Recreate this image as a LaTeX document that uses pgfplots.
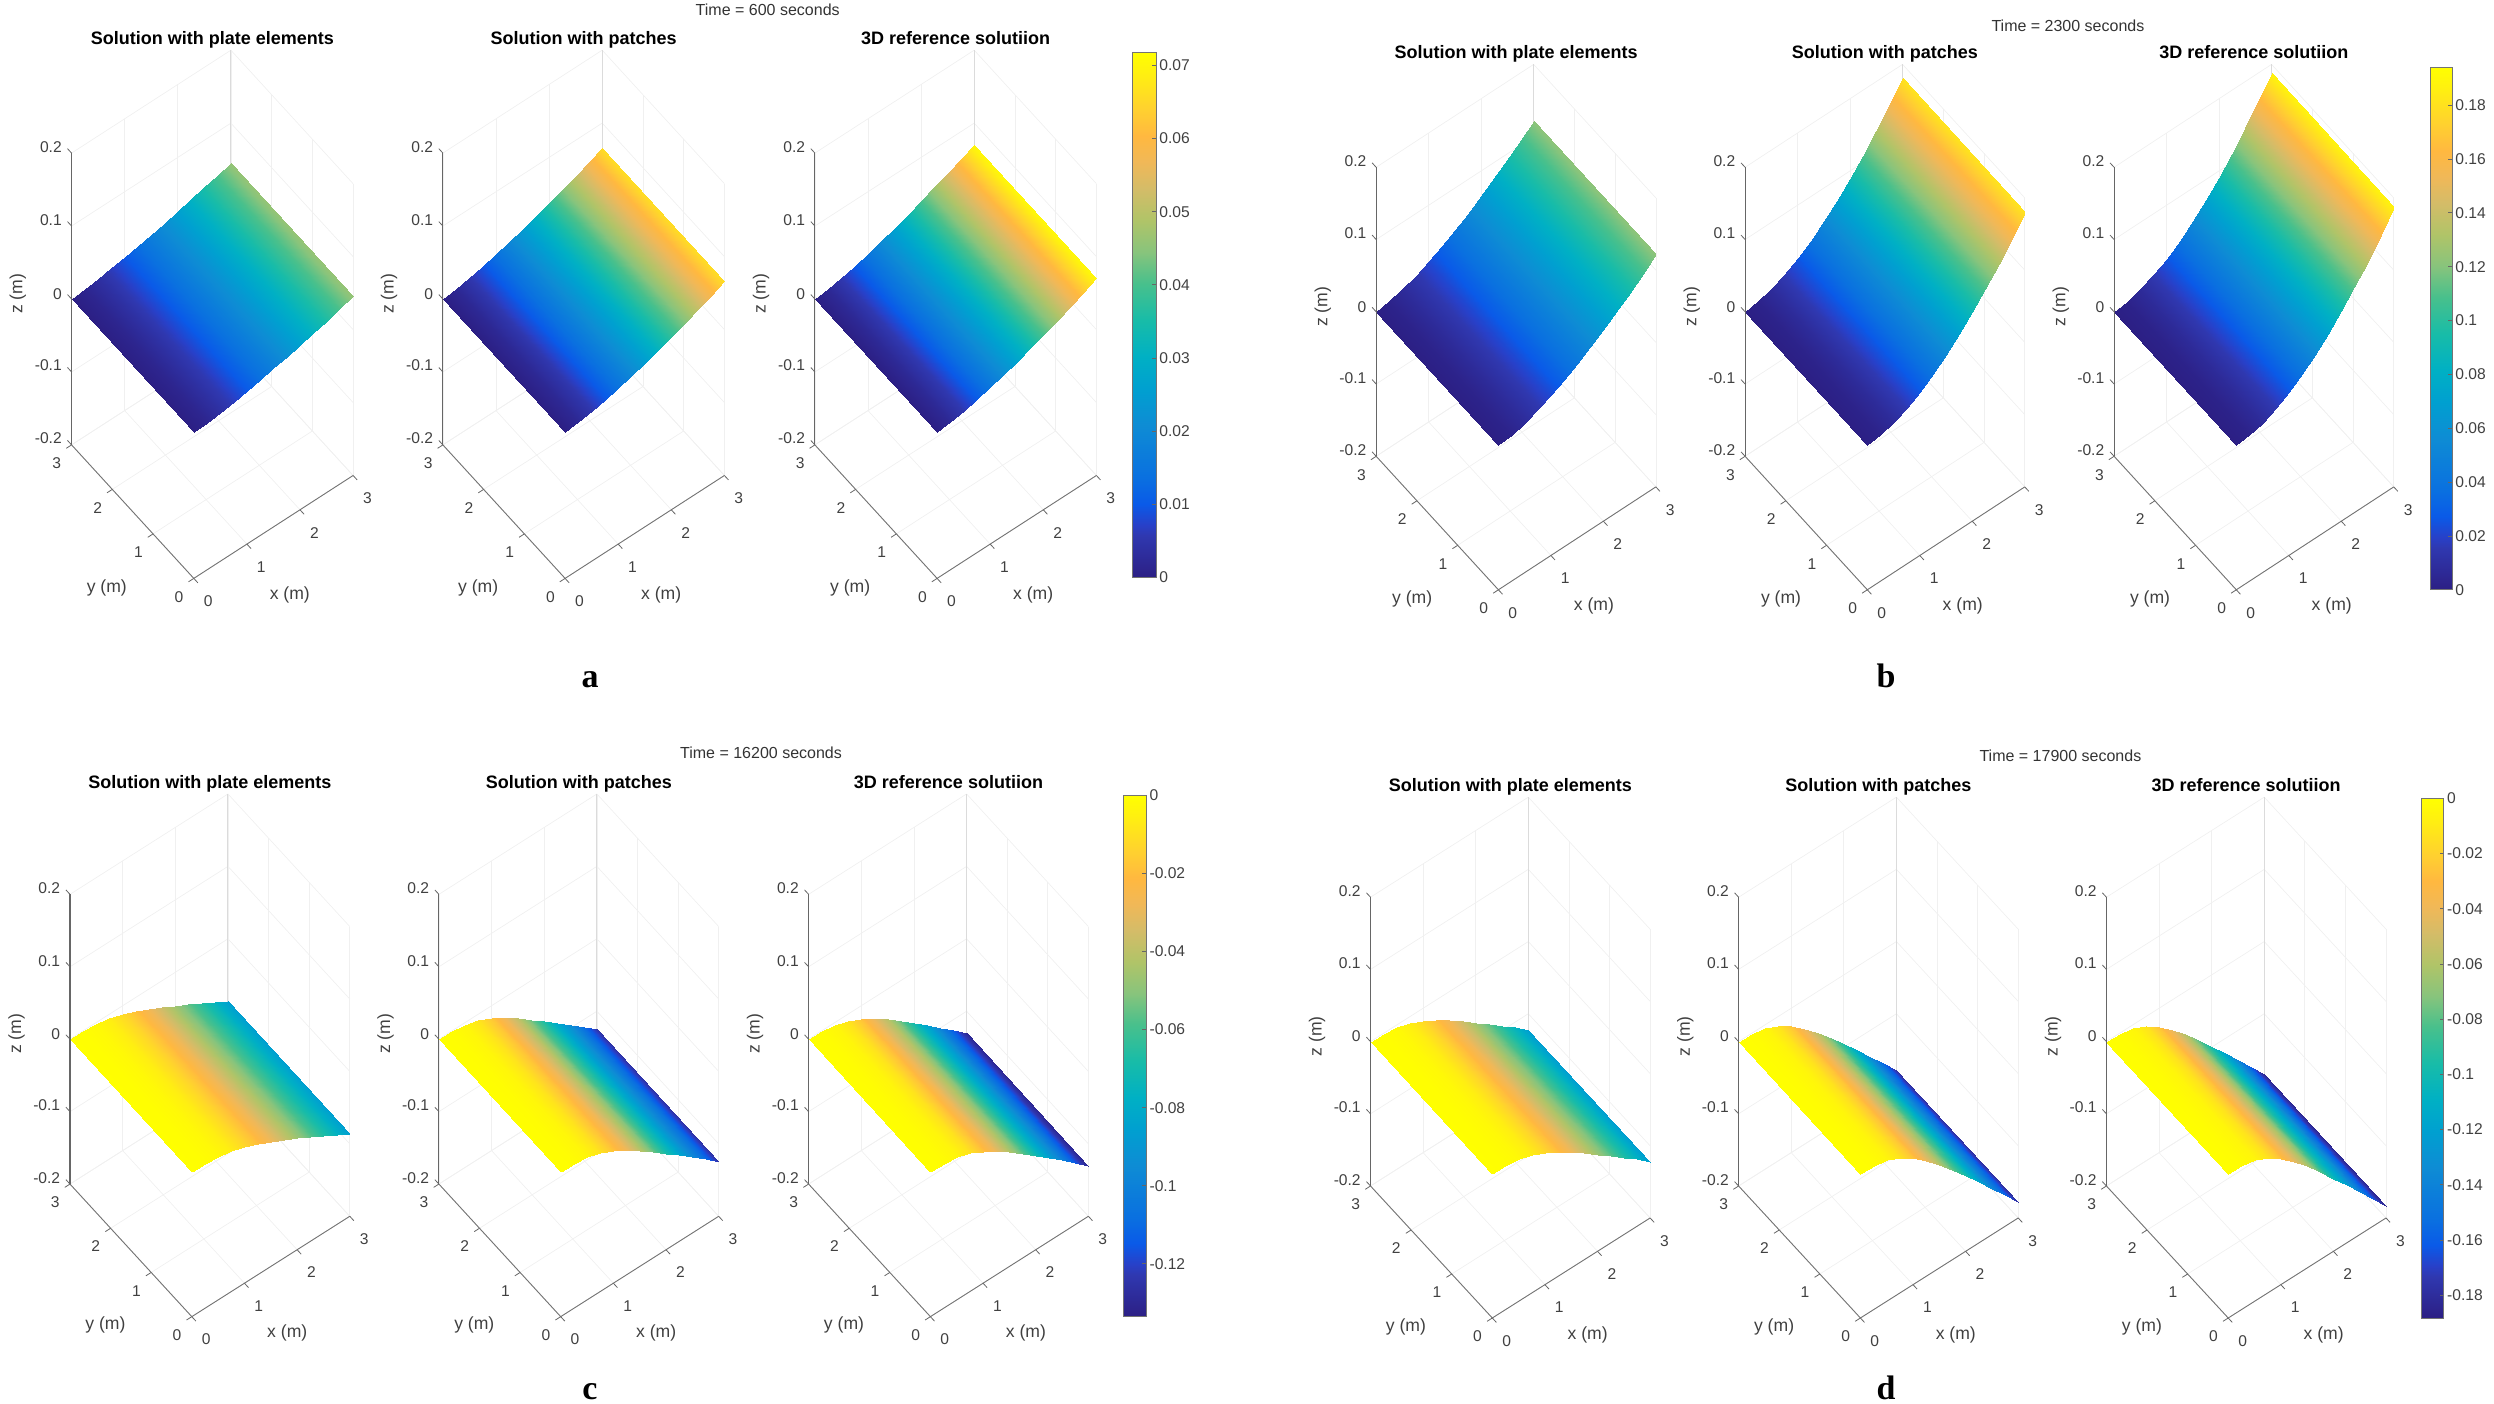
\documentclass[border=0pt]{standalone}
\usepackage{fontspec}
\setmainfont{Liberation Sans}
\newfontfamily\letterfont{Liberation Serif}
\usepackage{pgfplots}
\usepackage{pgfplotstable}
\pgfplotsset{compat=1.18}
\pgfplotsset{colormap={parula}{
 rgb255(0pt)=(44,31,132);
 rgb255(8pt)=(47,56,176);
 rgb255(10pt)=(40,64,200);
 rgb255(14pt)=(10,90,232);
 rgb255(19pt)=(10,112,224);
 rgb255(29pt)=(14,140,212);
 rgb255(36pt)=(0,160,208);
 rgb255(42pt)=(0,176,196);
 rgb255(49pt)=(24,188,168);
 rgb255(56pt)=(72,192,140);
 rgb255(62pt)=(136,196,124);
 rgb255(68pt)=(176,196,104);
 rgb255(74pt)=(212,188,104);
 rgb255(79pt)=(240,184,88);
 rgb255(84pt)=(255,184,64);
 rgb255(89pt)=(255,208,48);
 rgb255(96pt)=(255,240,16);
 rgb255(100pt)=(255,255,0)}}
\pgfplotstableread{
x y p1 p2 p3
0.00 0 0 0 0
0.25 0 .0014 .0020 .0022
0.50 0 .0037 .0053 .0057
0.75 0 .0066 .0095 .0102
1.00 0 .0099 .0142 .0152
1.25 0 .0135 .0193 .0207
1.50 0 .0174 .0250 .0267
1.75 0 .0216 .0310 .0331
2.00 0 .0261 .0374 .0400
2.25 0 .0307 .0441 .0471
2.50 0 .0357 .0512 .0546
2.75 0 .0407 .0584 .0624
3.00 0 .0460 .0660 .0705
0.00 3 0 0 0
0.25 3 .0014 .0020 .0022
0.50 3 .0037 .0053 .0057
0.75 3 .0066 .0095 .0102
1.00 3 .0099 .0142 .0152
1.25 3 .0135 .0193 .0207
1.50 3 .0174 .0250 .0267
1.75 3 .0216 .0310 .0331
2.00 3 .0261 .0374 .0400
2.25 3 .0307 .0441 .0471
2.50 3 .0357 .0512 .0546
2.75 3 .0407 .0584 .0624
3.00 3 .0460 .0660 .0705
}\tabA
\pgfplotstableread{
x y p1 p2 p3
0.00 0 0 0 0
0.25 0 .0026 .0024 .0021
0.50 0 .0076 .0079 .0075
0.75 0 .0143 .0160 .0155
1.00 0 .0222 .0264 .0259
1.25 0 .0314 .0391 .0389
1.50 0 .0417 .0538 .0540
1.75 0 .0529 .0704 .0713
2.00 0 .0650 .0891 .0906
2.25 0 .0781 .1093 .1120
2.50 0 .0920 .1316 .1354
2.75 0 .1066 .1555 .1607
3.00 0 .1220 .1810 .1880
0.00 3 0 0 0
0.25 3 .0026 .0024 .0021
0.50 3 .0076 .0079 .0075
0.75 3 .0143 .0160 .0155
1.00 3 .0222 .0264 .0259
1.25 3 .0314 .0391 .0389
1.50 3 .0417 .0538 .0540
1.75 3 .0529 .0704 .0713
2.00 3 .0650 .0891 .0906
2.25 3 .0781 .1093 .1120
2.50 3 .0920 .1316 .1354
2.75 3 .1066 .1555 .1607
3.00 3 .1220 .1810 .1880
}\tabB
\pgfplotstableread{
x y p1 p2 p3
0.00 0 0 0 0
0.25 0 -.0005 -.00075 -.0008
0.50 0 -.0022 -.0031 -.0033
0.75 0 -.0060 -.0088 -.0091
1.00 0 -.0120 -.0175 -.0182
1.25 0 -.0194 -.0281 -.0293
1.50 0 -.0275 -.0400 -.0416
1.75 0 -.0370 -.0538 -.0559
2.00 0 -.0464 -.0675 -.0702
2.25 0 -.0559 -.0813 -.0845
2.50 0 -.0658 -.0956 -.0995
2.75 0 -.0757 -.1100 -.1144
3.00 0 -.0860 -.1250 -.1300
0.00 3 0 0 0
0.25 3 -.0005 -.00075 -.0008
0.50 3 -.0022 -.0031 -.0033
0.75 3 -.0060 -.0088 -.0091
1.00 3 -.0120 -.0175 -.0182
1.25 3 -.0194 -.0281 -.0293
1.50 3 -.0275 -.0400 -.0416
1.75 3 -.0370 -.0538 -.0559
2.00 3 -.0464 -.0675 -.0702
2.25 3 -.0559 -.0813 -.0845
2.50 3 -.0658 -.0956 -.0995
2.75 3 -.0757 -.1100 -.1144
3.00 3 -.0860 -.1250 -.1300
}\tabC
\pgfplotstableread{
x y p1 p2 p3
0.00 0 0 0 0
0.25 0 -.0007 -.0011 -.0011
0.50 0 -.0031 -.0045 -.0046
0.75 0 -.0085 -.0125 -.0129
1.00 0 -.0171 -.0249 -.0258
1.25 0 -.0275 -.0400 -.0414
1.50 0 -.0390 -.0570 -.0589
1.75 0 -.0525 -.0765 -.0791
2.00 0 -.0659 -.0961 -.0994
2.25 0 -.0793 -.1157 -.1196
2.50 0 -.0933 -.1362 -.1408
2.75 0 -.1074 -.1566 -.1619
3.00 0 -.1220 -.1780 -.1840
0.00 3 0 0 0
0.25 3 -.0007 -.0011 -.0011
0.50 3 -.0031 -.0045 -.0046
0.75 3 -.0085 -.0125 -.0129
1.00 3 -.0171 -.0249 -.0258
1.25 3 -.0275 -.0400 -.0414
1.50 3 -.0390 -.0570 -.0589
1.75 3 -.0525 -.0765 -.0791
2.00 3 -.0659 -.0961 -.0994
2.25 3 -.0793 -.1157 -.1196
2.50 3 -.0933 -.1362 -.1408
2.75 3 -.1074 -.1566 -.1619
3.00 3 -.1220 -.1780 -.1840
}\tabD
\pgfplotsset{
 panel/.style={
  anchor=origin, clip=false,
  colormap name=parula,
  xmin=0,xmax=3,ymin=0,ymax=3,zmin=-0.2,zmax=0.2,
  xtick={0,1,2,3},ytick={0,1,2,3},ztick={-0.2,-0.1,0,0.1,0.2},
  grid=major, grid style={black!6,line width=0.35pt},
  axis line style={draw=none},
  tick align=outside, major tick length=2.5pt,
  tick style={draw=none},
  tick label style={font=\fontsize{7.8}{9}\selectfont,text=black!75},
  xticklabel style={xshift=2.4pt,yshift=-1.6pt},
  yticklabel style={xshift=-1pt},
  zticklabel style={xshift=0.3pt},
  /pgf/number format/assume math mode=true,
  /pgf/number format/fixed,
  xlabel={x (m)},ylabel={y (m)},zlabel={z (m)},
  label style={font=\fontsize{8.8}{10}\selectfont,text=black!75},
  xlabel style={at={(axis cs:0.96,-1.106,-0.2)},anchor=center},
  ylabel style={at={(axis cs:-1.131,0.661,-0.2)},anchor=center},
  zlabel style={at={(axis cs:-0.637,3.49,0.007)},anchor=center},
  title style={font=\fontsize{9}{11}\bfseries\selectfont,at={(axis description cs:0.5,1)},anchor=base,yshift=-3.3pt},
 },
 ga/.style={panel,x={(26.55pt,17.15pt)},y={(-20.37pt,22.25pt)},z={(0pt,364.75pt)},point meta min=0,point meta max=0.0718},
 gb/.style={panel,x={(26.24pt,17.15pt)},y={(-20.37pt,22.25pt)},z={(0pt,361.25pt)},point meta min=0,point meta max=0.194},
 gc/.style={panel,x={(26.33pt,16.73pt)},y={(-20.3pt,22.1pt)},z={(0pt,362.15pt)},point meta min=-0.1335,point meta max=0},
 gd/.style={panel,x={(26.3pt,16.67pt)},y={(-20.3pt,22.0pt)},z={(0pt,361pt)},point meta min=-0.1883,point meta max=0},
 colorbar shift/.style={},
 cbar/.style={
  hide axis, scale only axis, anchor=south west, colormap name=parula,
  xmin=0,xmax=1,ymin=0,ymax=1,
  colorbar,
  colorbar style={
   at={(parent axis.south west)},anchor=south west,
   width=\pgfkeysvalueof{/pgfplots/parent axis width},
   height=\pgfkeysvalueof{/pgfplots/parent axis height},
   axis line style={black!55,line width=0.5pt},
   tick style={black!60,line width=0.4pt},major tick length=2pt,
   tick align=inside, ytick pos=right,
   yticklabel pos=right,
   scaled y ticks=false,
   tick label style={font=\fontsize{7.8}{9}\selectfont,text=black!75,inner xsep=1.5pt},
   /pgf/number format/assume math mode=true,
   /pgf/number format/fixed,/pgf/number format/precision=2,
  },
 },
}
\newcommand{\panel}[6]{%
 \begin{axis}[#1,at={(#2pt,#3pt)},title={#4}]
  \addplot3[black!14,line width=0.5pt,forget plot] coordinates {(3,3,-0.2) (3,3,0.2)};
  \addplot3[surf,shader=interp,mesh/rows=2] table[x=x,y=y,z=#6]{#5};
  \addplot3[black!60,line width=0.55pt,forget plot] coordinates {(0,3,-0.2) (0,3,0.2)};
  \addplot3[black!55,line width=0.45pt,forget plot] coordinates {(0,3,-0.2) (0,0,-0.2) (3,0,-0.2)};
  \addplot3[black!60,line width=0.4pt,forget plot,unbounded coords=jump] coordinates {
   (0,0,-0.2) (0,-0.1,-0.2) (nan,nan,nan) (1,0,-0.2) (1,-0.1,-0.2) (nan,nan,nan)
   (2,0,-0.2) (2,-0.1,-0.2) (nan,nan,nan) (3,0,-0.2) (3,-0.1,-0.2) (nan,nan,nan)
   (0,0,-0.2) (-0.1,0,-0.2) (nan,nan,nan) (0,1,-0.2) (-0.1,1,-0.2) (nan,nan,nan)
   (0,2,-0.2) (-0.1,2,-0.2) (nan,nan,nan) (0,3,-0.2) (-0.1,3,-0.2) (nan,nan,nan)
   (0,3,-0.2) (0,3.1,-0.2) (nan,nan,nan) (0,3,-0.1) (0,3.1,-0.1) (nan,nan,nan)
   (0,3,0) (0,3.1,0) (nan,nan,nan) (0,3,0.1) (0,3.1,0.1) (nan,nan,nan)
   (0,3,0.2) (0,3.1,0.2)};
 \end{axis}}
\newcommand{\pe}{Solution with plate elements}
\newcommand{\pa}{Solution with patches}
\newcommand{\re}{3D reference solutiion}
\begin{document}
\begin{tikzpicture}[x=1pt,y=1pt]
\path[use as bounding box] (0,0) rectangle (1247,701.5);
\panel{ga}{96.9}{485.25}{\pe}{\tabA}{p1}
\panel{ga}{282.55}{485.25}{\pa}{\tabA}{p2}
\panel{ga}{468.55}{485.25}{\re}{\tabA}{p3}
\panel{gb}{749.2}{478.85}{\pe}{\tabB}{p1}
\panel{gb}{933.65}{478.85}{\pa}{\tabB}{p2}
\panel{gb}{1118.15}{478.85}{\re}{\tabB}{p3}
\panel{gc}{95.9}{115.6}{\pe}{\tabC}{p1}
\panel{gc}{280.35}{115.6}{\pa}{\tabC}{p2}
\panel{gc}{465.2}{115.6}{\re}{\tabC}{p3}
\panel{gd}{746.15}{114.7}{\pe}{\tabD}{p1}
\panel{gd}{930.2}{114.7}{\pa}{\tabD}{p2}
\panel{gd}{1114.1}{114.7}{\re}{\tabD}{p3}
\begin{axis}[cbar,at={(566pt,412.7pt)},width=12pt,height=262.7pt,point meta min=0,point meta max=0.0718,
  colorbar style={ytick={0,0.01,0.02,0.03,0.04,0.05,0.06,0.07}}]
\end{axis}
\begin{axis}[cbar,at={(1215pt,406.6pt)},width=11pt,height=261.2pt,point meta min=0,point meta max=0.194,
  colorbar style={ytick={0,0.02,0.04,0.06,0.08,0.1,0.12,0.14,0.16,0.18}}]
\end{axis}
\begin{axis}[cbar,at={(561.7pt,43.2pt)},width=11.4pt,height=260.7pt,point meta min=-0.1335,point meta max=0,
  colorbar style={ytick={-0.12,-0.1,-0.08,-0.06,-0.04,-0.02,0}}]
\end{axis}
\begin{axis}[cbar,at={(1210.8pt,42.5pt)},width=11.1pt,height=259.8pt,point meta min=-0.1883,point meta max=0,
  colorbar style={ytick={-0.18,-0.16,-0.14,-0.12,-0.1,-0.08,-0.06,-0.04,-0.02,0}}]
\end{axis}
\tikzset{tm/.style={font=\fontsize{8}{10}\selectfont,text=black!80,anchor=center},
 lt/.style={font=\fontsize{17}{20}\letterfont\bfseries\selectfont,anchor=base}}
\node[tm] at (383.85,696.4) {Time = 600 seconds};
\node[tm] at (1033.95,688.85) {Time = 2300 seconds};
\node[tm] at (380.5,325) {Time = 16200 seconds};
\node[tm] at (1030.2,323.4) {Time = 17900 seconds};
\node[lt] at (295,357.8) {a};
\node[lt] at (943,357.8) {b};
\node[lt] at (295,1.8) {c};
\node[lt] at (943,1.8) {d};
\end{tikzpicture}
\end{document}
